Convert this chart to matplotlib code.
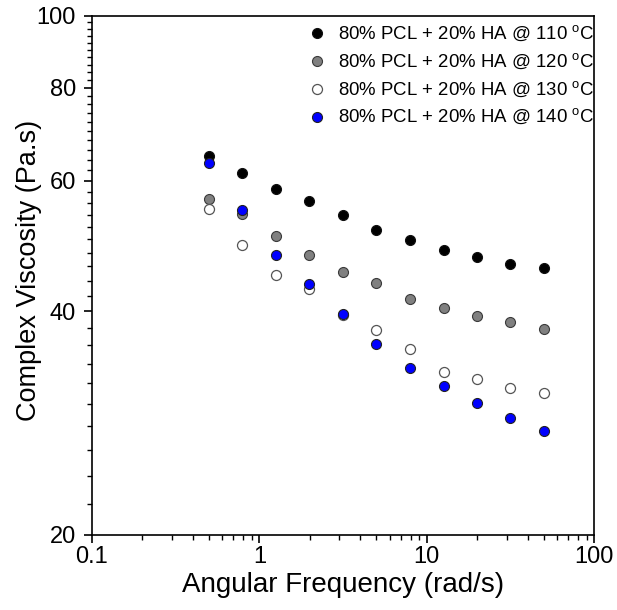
import matplotlib
matplotlib.use("Agg")
import matplotlib.pyplot as plt
import numpy as np
from matplotlib.ticker import FixedLocator, NullFormatter

plt.rcParams['font.family'] = ['Liberation Sans', 'DejaVu Sans']
plt.rcParams['mathtext.fontset'] = 'custom'
plt.rcParams['mathtext.rm'] = 'Liberation Sans'

# angular frequency (rad/s)
freq = [0.5, 0.79, 1.26, 1.99, 3.15, 5.0, 7.92, 12.6, 19.9, 31.5, 50.0]

# complex viscosity (Pa.s)
visc_110 = [64.8, 61.5, 58.5, 56.3, 54.0, 51.5, 49.9, 48.4, 47.4, 46.3, 45.7]
visc_120 = [56.7, 54.1, 50.5, 47.7, 45.2, 43.7, 41.6, 40.4, 39.4, 38.7, 37.9]
visc_130 = [55.0, 49.2, 44.8, 42.9, 39.6, 37.8, 35.6, 33.2, 32.4, 31.5, 31.1]
visc_140 = [63.3, 54.7, 47.6, 43.5, 39.7, 36.2, 33.6, 31.7, 30.1, 28.7, 27.6]

labels = ['80% PCL + 20% HA @ 110 $^{\\mathrm{o}}$C',
          '80% PCL + 20% HA @ 120 $^{\\mathrm{o}}$C',
          '80% PCL + 20% HA @ 130 $^{\\mathrm{o}}$C',
          '80% PCL + 20% HA @ 140 $^{\\mathrm{o}}$C']

fig = plt.figure(figsize=(6.17, 6.10), dpi=100)
ax = fig.add_axes([0.149, 0.123, 0.814, 0.851])

ax.plot(freq, visc_110, 'o', ms=7.2, mfc='black', mec='#111111', mew=0.8, label=labels[0])
ax.plot(freq, visc_120, 'o', ms=7.2, mfc='#808080', mec='#3a3a3a', mew=0.8, label=labels[1])
ax.plot(freq, visc_130, 'o', ms=7.2, mfc='white', mec='#555555', mew=0.9, label=labels[2])
ax.plot(freq, visc_140, 'o', ms=7.2, mfc='#0000ff', mec='#222222', mew=0.8, label=labels[3])

ax.set_xscale('log')
ax.set_yscale('log')
ax.set_xlim(0.1, 100)
ax.set_ylim(20, 100)

ax.xaxis.set_major_locator(FixedLocator([0.1, 1, 10, 100]))
ax.set_xticklabels(['0.1', '1', '10', '100'])
ax.xaxis.set_minor_locator(FixedLocator([m * d for d in [0.1, 1, 10] for m in range(2, 10)]))
ax.xaxis.set_minor_formatter(NullFormatter())

ax.yaxis.set_major_locator(FixedLocator([20, 40, 60, 80, 100]))
ax.set_yticklabels(['20', '40', '60', '80', '100'])
ax.yaxis.set_minor_locator(FixedLocator(list(range(22, 100, 2))))
ax.yaxis.set_minor_formatter(NullFormatter())

ax.tick_params(which='major', direction='out', length=6, width=1.2, labelsize=17)
ax.tick_params(axis='x', which='major', pad=2)
ax.tick_params(axis='y', which='major', pad=5.5)
ax.tick_params(which='minor', direction='out', length=3.5, width=1.0)
for s in ax.spines.values():
    s.set_linewidth(1.2)

ax.set_xlabel('Angular Frequency (rad/s)', fontsize=20, labelpad=3)
ax.set_ylabel('Complex Viscosity (Pa.s)', fontsize=19.5)
ax.yaxis.set_label_coords(-0.10, 0.51)

ax.legend(loc='upper right', bbox_to_anchor=(1.0, 0.985), frameon=False,
          fontsize=13.4, borderpad=0, borderaxespad=0, handletextpad=0.6,
          labelspacing=0.42, handlelength=1.0)

fig.savefig('out.png', dpi=100)
